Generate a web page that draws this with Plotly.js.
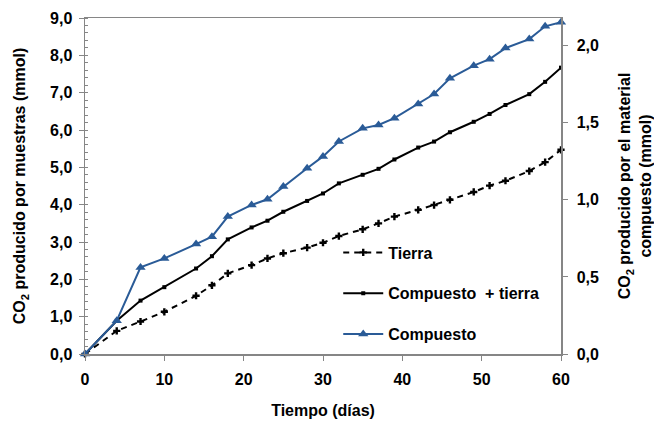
<!DOCTYPE html>
<html>
<head>
<meta charset="utf-8">
<script src="https://cdn.plot.ly/plotly-3.0.1.min.js"></script>
<style>html,body{margin:0;padding:0;background:#fff;}#chart{width:654px;height:424px;}</style>
</head>
<body>
<div id="chart"></div>
<script>
const days = [0,4,7,10,14,16,18,21,23,25,28,30,32,35,37,39,42,44,46,49,51,53,56,58,60];
const tierra = [0,0.62,0.87,1.13,1.56,1.84,2.16,2.38,2.56,2.70,2.85,2.98,3.16,3.34,3.50,3.68,3.86,3.99,4.13,4.34,4.51,4.64,4.90,5.14,5.47];
const compuestoTierra = [0,0.89,1.43,1.79,2.29,2.62,3.07,3.39,3.57,3.81,4.10,4.30,4.57,4.80,4.96,5.21,5.53,5.69,5.94,6.22,6.43,6.67,6.96,7.29,7.67];
const compuesto = [0,0.216,0.562,0.620,0.713,0.761,0.892,0.967,1.004,1.086,1.205,1.282,1.379,1.464,1.486,1.530,1.622,1.687,1.789,1.871,1.913,1.985,2.043,2.126,2.153];
const seriesNames = ['Tierra','Compuesto  + tierra','Compuesto'];

const FONT = 'Arial, "Liberation Sans", sans-serif';
const AX = '#868686';
const F = {family: FONT, size: 16, weight: 'bold', color: '#000'};

const traces = [
  {x: days, y: tierra, name: seriesNames[0], legendgroup: 'a', mode: 'lines+markers', cliponaxis: false,
   line: {color: '#000', width: 2, dash: '6px,5px'},
   marker: {symbol: 'cross', size: 6, color: '#000'}},
  {x: days, y: compuestoTierra, name: seriesNames[1], legendgroup: 'b', mode: 'lines+markers', cliponaxis: false,
   line: {color: '#000', width: 2},
   marker: {symbol: 'square', size: 4, color: '#000'}},
  {x: days, y: compuesto, name: seriesNames[2], legendgroup: 'c', yaxis: 'y2', mode: 'lines+markers', cliponaxis: false,
   line: {color: '#2a5b97', width: 2},
   marker: {symbol: 'triangle-up', size: 9, color: '#2a5b97'}}
];

const layout = {
  width: 654, height: 424,
  margin: {l: 85, r: 93, t: 18, b: 70},
  paper_bgcolor: '#fff', plot_bgcolor: '#fff',
  separators: ',.',
  font: {family: FONT, color: '#000', size: 16},
  showlegend: true,
  legend: {x: 0.532, y: 0.18, xanchor: 'left', yanchor: 'middle', bgcolor: 'rgba(0,0,0,0)',
           tracegroupgap: 17, font: F, itemwidth: 40},
  xaxis: {range: [0, 60], dtick: 10, tick0: 0, showgrid: false, zeroline: false,
          showline: true, linecolor: AX, linewidth: 1.5, mirror: true,
          ticks: 'outside', ticklen: 5, tickcolor: AX,
          tickfont: F, ticklabelstandoff: 5,
          title: {text: 'Tiempo (días)', font: F, standoff: 18}},
  yaxis: {range: [0, 9], dtick: 1, tick0: 0, tickformat: '.1f', showgrid: false, zeroline: false,
          showline: true, linecolor: AX, linewidth: 1.5,
          ticks: 'outside', ticklen: 5, tickcolor: AX,
          minor: {dtick: 0.2, ticks: 'inside', ticklen: 3, tickcolor: AX},
          tickfont: F, ticklabelstandoff: 3,
          title: {text: 'CO<sub>2</sub> producido por muestras (mmol)', font: F, standoff: 20}},
  yaxis2: {overlaying: 'y', side: 'right', range: [0, 2.18], dtick: 0.5, tick0: 0, tickformat: '.1f',
           showgrid: false, zeroline: false, showline: true, linecolor: AX, linewidth: 1.5,
           ticks: 'outside', ticklen: 5, tickcolor: AX,
           tickfont: F, ticklabelstandoff: 6,
           title: {text: 'CO<sub>2</sub> producido por el material<br>compuesto (mmol)', font: F, standoff: 22}}
};

Plotly.newPlot('chart', traces, layout, {displayModeBar: false, staticPlot: true});
</script>
</body>
</html>
